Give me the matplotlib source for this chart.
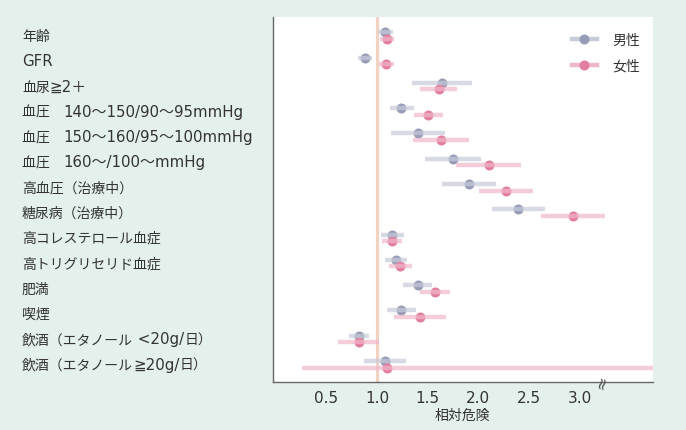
import matplotlib
matplotlib.use("Agg")
import matplotlib.pyplot as plt
from matplotlib.lines import Line2D
from matplotlib.offsetbox import AnnotationBbox, HPacker, TextArea
from matplotlib.transforms import blended_transform_factory

# latin glyphs from DejaVu (wide, rounded look), kana/kanji from Noto CJK
plt.rcParams["font.family"] = ["DejaVu Sans", "Noto Sans CJK JP"]

# data: relative risk with 95% CI
categories = [
    "年齢",
    "GFR",
    "血尿≧2＋",
    "血圧　140〜150/90〜95mmHg",
    "血圧　150〜160/95〜100mmHg",
    "血圧　160〜/100〜mmHg",
    "高血圧（治療中）",
    "糖尿病（治療中）",
    "高コレステロール血症",
    "高トリグリセリド血症",
    "肥満",
    "喫煙",
    "飲酒（エタノール <20g/日）",
    "飲酒（エタノール≧20g/日）",
]
male_rr = [1.08, 0.88, 1.64, 1.24, 1.40, 1.75, 1.91, 2.39, 1.15, 1.19, 1.40, 1.24, 0.82, 1.08]
male_lo = [1.01, 0.81, 1.34, 1.13, 1.14, 1.47, 1.64, 2.13, 1.04, 1.08, 1.26, 1.10, 0.72, 0.87]
male_hi = [1.16, 0.95, 1.94, 1.36, 1.67, 2.03, 2.17, 2.66, 1.27, 1.30, 1.54, 1.38, 0.92, 1.29]
female_rr = [1.10, 1.09, 1.61, 1.50, 1.63, 2.10, 2.27, 2.93, 1.15, 1.23, 1.57, 1.42, 0.82, 1.10]
female_lo = [1.03, 1.02, 1.42, 1.36, 1.35, 1.78, 2.01, 2.62, 1.05, 1.12, 1.42, 1.17, 0.61, 0.26]
female_hi = [1.17, 1.17, 1.79, 1.65, 1.91, 2.42, 2.54, 3.25, 1.25, 1.34, 1.72, 1.68, 1.02, 3.80]
series_names = ["男性", "女性"]
xticks = [0.5, 1.0, 1.5, 2.0, 2.5, 3.0]

BG = "#E3F0EB"
TEXT = "#333333"
MALE_DOT, MALE_BAR = "#969CB6", "#C7CBD9"
FEMALE_DOT, FEMALE_BAR = "#E17E9D", "#F1B7C9"
WIDE = set("〜≧＋")


def runs(label):
    # split a label into latin / CJK runs so each can get its own size
    out = []
    for ch in label:
        kind = ch.isascii() or ch in WIDE
        if out and out[-1][0] == kind:
            out[-1][1] += ch
        else:
            out.append([kind, ch])
    return out


fig = plt.figure(figsize=(6.86, 4.31), dpi=100, facecolor=BG)
ax = fig.add_axes([0.3975, 0.1114, 0.5540, 0.8466])
ax.set_facecolor("white")

rows = list(range(len(categories)))
off = 0.13
ax.axvline(1.0, color="#F2D3C3", lw=2.3, zorder=1)

for rr, lo, hi, dot, bar, sign in [
    (male_rr, male_lo, male_hi, MALE_DOT, MALE_BAR, -1),
    (female_rr, female_lo, female_hi, FEMALE_DOT, FEMALE_BAR, 1),
]:
    ys = [r + sign * off for r in rows]
    ax.plot(rr, ys, "o", ms=7.2, color=dot, mec="none", zorder=3)
    ax.hlines(ys, lo, hi, color=bar, lw=3.2, alpha=0.7, zorder=4)

ax.set_xlim(-0.03, 3.72)
ax.set_ylim(13.70, -0.73)
ax.set_yticks([])
ax.set_xticks(xticks)
ax.set_xticklabels([f"{t:.1f}" for t in xticks], fontsize=11, color=TEXT)
ax.tick_params(axis="x", length=0, pad=6)
ax.set_xlabel("相対危険", fontsize=10, color=TEXT, labelpad=2)
for side in ["top", "right"]:
    ax.spines[side].set_visible(False)
for side in ["left", "bottom"]:
    ax.spines[side].set_color("#666666")
    ax.spines[side].set_linewidth(1.0)

# axis break mark
ax.text(3.21, 0, "≈", transform=blended_transform_factory(ax.transData, ax.transAxes),
        rotation=75, ha="center", va="center", fontsize=12, color="#555555")

# category labels on the left of the figure
trans = blended_transform_factory(fig.transFigure, ax.transData)
for r, name in zip(rows, categories):
    parts = [
        TextArea(txt, textprops=dict(fontsize=10.8 if latin else 10, color=TEXT))
        for latin, txt in runs(name)
    ]
    box = HPacker(children=parts, align="baseline", pad=0, sep=0)
    ab = AnnotationBbox(box, (22 / 686, r), xycoords=trans, box_alignment=(0, 0.5),
                        frameon=False, pad=0, annotation_clip=False)
    ax.add_artist(ab)

handles = [
    Line2D([], [], color=MALE_BAR, lw=3.2, marker="o", ms=7.2, mfc=MALE_DOT, mec="none"),
    Line2D([], [], color=FEMALE_BAR, lw=3.2, marker="o", ms=7.2, mfc=FEMALE_DOT, mec="none"),
]
ax.legend(handles, series_names, loc="upper right", bbox_to_anchor=(1.0, 0.99),
          frameon=False, fontsize=10, handlelength=1.8, handletextpad=1.15,
          labelspacing=0.8, labelcolor=TEXT)

fig.savefig("out.png", dpi=100, facecolor=BG)
